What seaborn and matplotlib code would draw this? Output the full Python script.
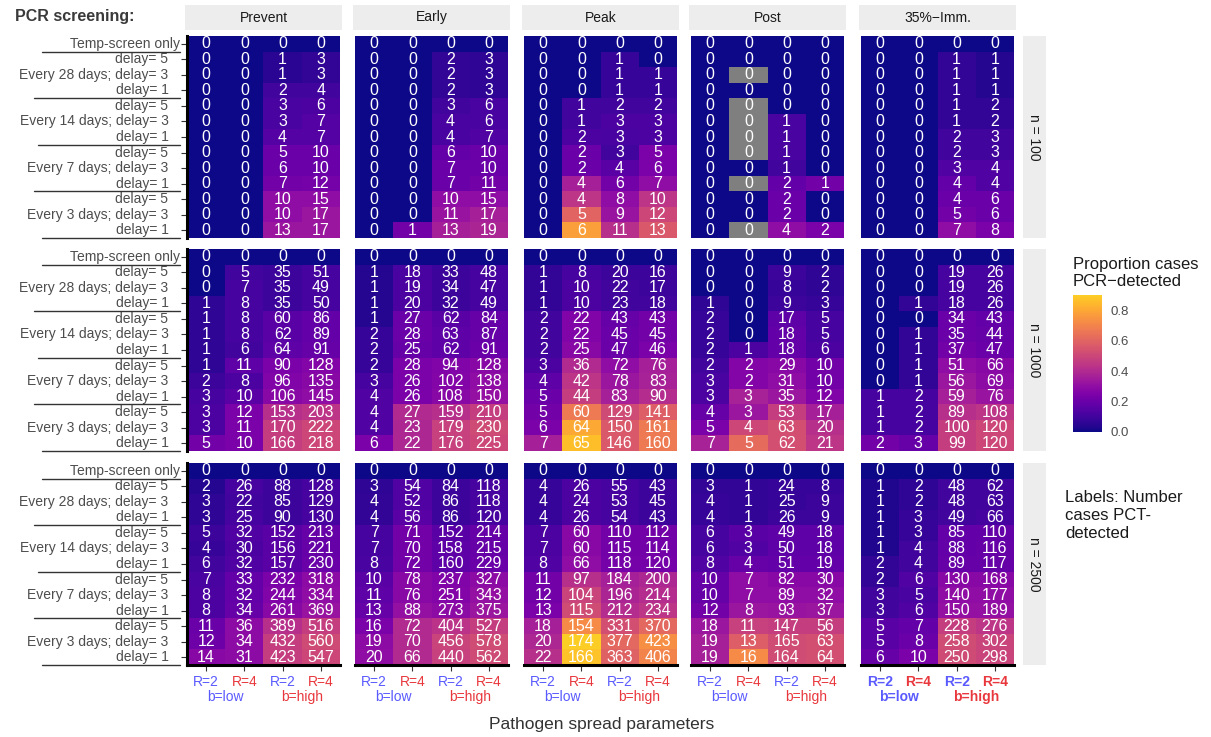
import numpy as np
import pandas as pd
import matplotlib
matplotlib.use("Agg")
import matplotlib.pyplot as plt
from matplotlib.colors import ListedColormap
import seaborn as sns
from matplotlib.transforms import blended_transform_factory

sns.set_theme(style="white")
plt.rcParams['font.family'] = ['Liberation Sans', 'DejaVu Sans']

# ---------------- data ----------------
timings = ["Prevent", "Early", "Peak", "Post", "35%\u2212Imm."]
sizes = ["n = 100", "n = 1000", "n = 2500"]
row_labels = ["Temp-screen only",
              "delay= 5", "Every 28 days; delay= 3", "delay= 1",
              "delay= 5", "Every 14 days; delay= 3", "delay= 1",
              "delay= 5", "Every 7 days; delay= 3", "delay= 1",
              "delay= 5", "Every 3 days; delay= 3", "delay= 1"]
param_R = ["R=2", "R=4", "R=2", "R=4"]
param_b = ["b=low", "b=high"]
col_keys = ["R2_low", "R4_low", "R2_high", "R4_high"]

Z = [0] * 13
NA = np.nan

# counts (labels) : columns R=2/b=low, R=4/b=low, R=2/b=high, R=4/b=high ; 13 rows each
cnt_100_prevent = [Z, Z, [0, 1, 1, 2, 3, 3, 4, 5, 6, 7, 10, 10, 13], [0, 3, 3, 4, 6, 7, 7, 10, 10, 12, 15, 17, 17]]
cnt_100_early = [Z, [0] * 12 + [1], [0, 2, 2, 2, 3, 4, 4, 6, 7, 7, 10, 11, 13], [0, 3, 3, 3, 6, 6, 7, 10, 10, 11, 15, 17, 19]]
cnt_100_peak = [Z, [0, 0, 0, 0, 1, 1, 2, 2, 2, 4, 4, 5, 6], [0, 1, 1, 1, 2, 3, 3, 3, 4, 6, 8, 9, 11], [0, 0, 1, 1, 2, 3, 3, 5, 6, 7, 10, 12, 13]]
cnt_100_post = [Z, Z, [0, 0, 0, 0, 0, 1, 1, 1, 1, 2, 2, 2, 4], [0, 0, 0, 0, 0, 0, 0, 0, 0, 1, 0, 0, 2]]
cnt_100_imm = [Z, Z, [0, 1, 1, 1, 1, 1, 2, 2, 3, 4, 4, 5, 7], [0, 1, 1, 1, 2, 2, 3, 3, 4, 4, 6, 6, 8]]

cnt_1000_prevent = [[0, 0, 0, 1, 1, 1, 1, 1, 2, 3, 3, 3, 5], [0, 5, 7, 8, 8, 8, 6, 11, 8, 10, 12, 11, 10],
                    [0, 35, 35, 35, 60, 62, 64, 90, 96, 106, 153, 170, 166], [0, 51, 49, 50, 86, 89, 91, 128, 135, 145, 203, 222, 218]]
cnt_1000_early = [[0, 1, 1, 1, 1, 2, 2, 2, 3, 4, 4, 4, 6], [0, 18, 19, 20, 27, 28, 25, 28, 26, 26, 27, 23, 22],
                  [0, 33, 34, 32, 62, 63, 62, 94, 102, 108, 159, 179, 176], [0, 48, 47, 49, 84, 87, 91, 128, 138, 150, 210, 230, 225]]
cnt_1000_peak = [[0, 1, 1, 1, 2, 2, 2, 3, 4, 5, 5, 6, 7], [0, 8, 10, 10, 22, 22, 25, 36, 42, 44, 60, 64, 65],
                 [0, 20, 22, 23, 43, 45, 47, 72, 78, 83, 129, 150, 146], [0, 16, 17, 18, 43, 45, 46, 76, 83, 90, 141, 161, 160]]
cnt_1000_post = [[0, 0, 0, 1, 2, 2, 2, 2, 3, 3, 4, 5, 7], [0, 0, 0, 0, 0, 0, 1, 2, 2, 3, 3, 4, 5],
                 [0, 9, 8, 9, 17, 18, 18, 29, 31, 35, 53, 63, 62], [0, 2, 2, 3, 5, 5, 6, 10, 10, 12, 17, 20, 21]]
cnt_1000_imm = [[0, 0, 0, 0, 0, 0, 0, 0, 0, 1, 1, 1, 2], [0, 0, 0, 1, 0, 1, 1, 1, 1, 2, 2, 2, 3],
                [0, 19, 19, 18, 34, 35, 37, 51, 56, 59, 89, 100, 99], [0, 26, 26, 26, 43, 44, 47, 66, 69, 76, 108, 120, 120]]

cnt_2500_prevent = [[0, 2, 3, 3, 5, 4, 6, 7, 8, 8, 11, 12, 14], [0, 26, 22, 25, 32, 30, 32, 33, 32, 34, 36, 34, 31],
                    [0, 88, 85, 90, 152, 156, 157, 232, 244, 261, 389, 432, 423], [0, 128, 129, 130, 213, 221, 230, 318, 334, 369, 516, 560, 547]]
cnt_2500_early = [[0, 3, 4, 4, 7, 7, 8, 10, 11, 13, 16, 19, 20], [0, 54, 52, 56, 71, 70, 72, 78, 76, 88, 72, 70, 66],
                  [0, 84, 86, 86, 152, 158, 160, 237, 251, 273, 404, 456, 440], [0, 118, 118, 120, 214, 215, 229, 327, 343, 375, 527, 578, 562]]
cnt_2500_peak = [[0, 4, 4, 4, 7, 7, 8, 11, 12, 13, 18, 20, 22], [0, 26, 24, 26, 60, 60, 66, 97, 104, 115, 154, 174, 166],
                 [0, 55, 53, 54, 110, 115, 118, 184, 196, 212, 331, 377, 363], [0, 43, 45, 43, 112, 114, 120, 200, 214, 234, 370, 423, 406]]
cnt_2500_post = [[0, 3, 4, 4, 6, 6, 8, 10, 10, 12, 18, 19, 19], [0, 1, 1, 1, 3, 3, 4, 7, 7, 8, 11, 13, 16],
                 [0, 24, 25, 26, 49, 50, 51, 82, 89, 93, 147, 165, 164], [0, 8, 9, 9, 18, 18, 19, 30, 32, 37, 56, 63, 64]]
cnt_2500_imm = [[0, 1, 1, 1, 1, 1, 2, 2, 3, 3, 5, 5, 6], [0, 2, 2, 3, 3, 4, 4, 6, 5, 6, 7, 8, 10],
                [0, 48, 48, 49, 85, 88, 89, 130, 140, 150, 228, 258, 250], [0, 62, 63, 66, 110, 116, 117, 168, 177, 189, 276, 302, 298]]

# proportion of cases PCR-detected (fill colour); NaN = no cases (grey)
prop_100_prevent = [Z, Z, [0, .05, .05, .1, .12, .12, .15, .2, .2, .22, .3, .3, .33],
                    [0, .07, .07, .1, .13, .15, .15, .2, .2, .23, .3, .33, .33]]
prop_100_early = [Z, [0] * 12 + [.22], [0, .07, .07, .07, .1, .12, .12, .18, .2, .2, .3, .32, .36],
                  [0, .06, .06, .06, .12, .12, .14, .2, .2, .22, .3, .36, .38]]
prop_100_peak = [Z, [0, 0, 0, 0, .1, .1, .13, .2, .2, .36, .44, .6, .78],
                 [0, .08, .08, .08, .1, .13, .12, .1, .16, .22, .3, .32, .42],
                 [0, 0, .08, .08, .1, .13, .13, .24, .24, .3, .44, .5, .56]]
prop_100_post = [Z, [0, 0, NA, 0, NA, NA, NA, NA, 0, NA, 0, 0, NA],
                 [0, 0, 0, 0, 0, .12, .12, .12, .1, .18, .2, .2, .3],
                 [0, 0, 0, 0, 0, 0, 0, 0, 0, .22, 0, 0, .24]]
prop_100_imm = [Z, Z, [0, .07, .07, .07, .07, .07, .1, .1, .14, .18, .2, .22, .3],
                [0, .04, .04, .04, .07, .07, .1, .1, .14, .14, .2, .2, .24]]

prop_1000_prevent = [[0, 0, 0, .06, .06, .06, .06, .06, .09, .11, .13, .13, .22],
                     [0, .1, .11, .11, .11, .11, .1, .17, .13, .16, .24, .24, .24],
                     [0, .09, .09, .09, .16, .16, .17, .24, .26, .28, .42, .47, .47],
                     [0, .11, .11, .11, .18, .18, .19, .27, .28, .3, .44, .5, .5]]
prop_1000_early = [[0, .04, .04, .04, .04, .08, .08, .08, .11, .14, .14, .14, .24],
                   [0, .12, .13, .13, .2, .2, .19, .24, .24, .24, .4, .39, .39],
                   [0, .09, .09, .09, .16, .17, .17, .26, .27, .28, .42, .48, .48],
                   [0, .11, .11, .11, .19, .19, .2, .28, .3, .31, .47, .51, .5]]
prop_1000_peak = [[0, .07, .07, .07, .1, .1, .1, .13, .17, .2, .22, .24, .36],
                  [0, .11, .13, .13, .26, .26, .28, .4, .44, .47, .67, .8, .86],
                  [0, .09, .1, .1, .19, .2, .2, .3, .33, .36, .51, .56, .56],
                  [0, .09, .09, .1, .22, .22, .24, .36, .37, .41, .58, .67, .67]]
prop_1000_post = [[0, 0, 0, .06, .08, .08, .08, .1, .12, .13, .19, .24, .37],
                  [0, 0, 0, 0, 0, 0, .13, .27, .27, .37, .33, .5, .62],
                  [0, .09, .08, .09, .17, .18, .18, .28, .3, .33, .47, .53, .53],
                  [0, .06, .06, .08, .11, .11, .13, .22, .22, .26, .36, .42, .44]]
prop_1000_imm = [[0] * 9 + [.11, .11, .11, .22],
                 [0, 0, 0, .07, 0, .07, .07, .07, .07, .11, .11, .11, .19],
                 [0, .11, .11, .11, .2, .2, .22, .3, .33, .36, .42, .47, .47],
                 [0, .11, .11, .11, .18, .19, .2, .28, .29, .32, .44, .5, .5]]

prop_2500_prevent = [[0, .04, .06, .06, .09, .08, .1, .12, .13, .13, .2, .21, .28],
                     [0, .11, .1, .11, .14, .13, .14, .18, .18, .19, .29, .29, .29],
                     [0, .09, .09, .09, .16, .16, .16, .24, .26, .28, .42, .47, .47],
                     [0, .11, .11, .11, .19, .19, .2, .29, .3, .32, .47, .51, .5]]
prop_2500_early = [[0, .06, .07, .07, .11, .11, .12, .16, .17, .19, .24, .29, .3],
                   [0, .14, .14, .16, .22, .22, .22, .28, .28, .31, .4, .4, .4],
                   [0, .09, .09, .09, .16, .17, .17, .26, .27, .29, .43, .49, .48],
                   [0, .11, .11, .11, .19, .19, .2, .29, .31, .33, .47, .52, .51]]
prop_2500_peak = [[0, .08, .08, .08, .13, .13, .14, .22, .22, .24, .36, .39, .42],
                  [0, .13, .13, .13, .28, .28, .3, .42, .49, .52, .72, .9, .87],
                  [0, .11, .11, .11, .22, .22, .23, .36, .38, .41, .53, .61, .59],
                  [0, .09, .09, .09, .22, .22, .23, .39, .41, .44, .61, .73, .7]]
prop_2500_post = [[0, .07, .08, .08, .11, .11, .14, .19, .19, .22, .33, .36, .36],
                  [0, .07, .07, .07, .16, .14, .19, .3, .3, .33, .48, .58, .72],
                  [0, .08, .08, .09, .17, .17, .18, .28, .3, .32, .47, .52, .52],
                  [0, .08, .09, .09, .17, .17, .18, .28, .3, .33, .47, .53, .53]]
prop_2500_imm = [[0, .03, .03, .03, .03, .03, .07, .07, .1, .1, .16, .16, .19],
                 [0, .06, .06, .08, .08, .1, .1, .14, .12, .14, .18, .2, .24],
                 [0, .1, .1, .1, .18, .18, .19, .28, .3, .31, .47, .52, .51],
                 [0, .1, .1, .11, .18, .19, .19, .28, .3, .31, .44, .49, .49]]

counts = [[cnt_100_prevent, cnt_100_early, cnt_100_peak, cnt_100_post, cnt_100_imm],
          [cnt_1000_prevent, cnt_1000_early, cnt_1000_peak, cnt_1000_post, cnt_1000_imm],
          [cnt_2500_prevent, cnt_2500_early, cnt_2500_peak, cnt_2500_post, cnt_2500_imm]]
props = [[prop_100_prevent, prop_100_early, prop_100_peak, prop_100_post, prop_100_imm],
         [prop_1000_prevent, prop_1000_early, prop_1000_peak, prop_1000_post, prop_1000_imm],
         [prop_2500_prevent, prop_2500_early, prop_2500_peak, prop_2500_post, prop_2500_imm]]

# ---------------- layout ----------------
W, H = 1211, 737
fig = plt.figure(figsize=(W / 100, H / 100), dpi=100)
fig.patch.set_facecolor("white")


def rect(x0, y0, w, h):
    return [x0 / W, 1 - (y0 + h) / H, w / W, h / H]


px0 = [187, 355, 524, 691, 861]
pw = 153
py0 = [36, 249, 463]
ph = 202

BLUE = "#5a5aff"
RED = "#e8383d"
GREY30 = "#4d4d4d"
sep_lines = [(1, 42), (4, 34), (7, 38), (10, 34), (13, 42)]
tick_text = [row_labels[0]] + [lab + "   " for lab in row_labels[1:]]

cmap = ListedColormap(plt.get_cmap("plasma")(np.linspace(0, 0.9, 256)))
cbar_ax = fig.add_axes(rect(1073, 295, 29, 137))

for r in range(3):
    for c in range(5):
        ax = fig.add_axes(rect(px0[c], py0[r], pw, ph))
        cdf = pd.DataFrame(np.array(counts[r][c]).T, index=row_labels, columns=col_keys)
        pdf = pd.DataFrame(np.array(props[r][c], dtype=float).T, index=row_labels, columns=col_keys)
        first = (r == 0 and c == 0)
        sns.heatmap(pdf, ax=ax, cmap=cmap, vmin=0, vmax=0.9, annot=cdf, fmt="d",
                    annot_kws={"color": "white", "fontsize": 11.5}, linewidths=0,
                    cbar=first, cbar_ax=cbar_ax if first else None)
        ax.set_facecolor("#7f7f7f")
        # labels for grey (NA) cells
        for i in range(13):
            for j in range(4):
                if np.isnan(pdf.iat[i, j]):
                    ax.text(j + 0.5, i + 0.5, str(cdf.iat[i, j]), color="white",
                            fontsize=11.5, ha="center", va="center")
        ax.set_xlabel("")
        ax.set_ylabel("")
        for s in ax.spines.values():
            s.set_visible(False)
        # y axis
        if c == 0:
            ax.set_yticks(np.arange(13) + 0.5)
            ax.set_yticklabels(tick_text, rotation=0, color=GREY30, fontsize=10)
            ax.tick_params(axis="y", left=True, length=4, width=0.8, color="#333333", pad=1)
            ax.spines["left"].set_visible(True)
            ax.spines["left"].set_linewidth(2.2)
            ax.spines["left"].set_color("black")
            tr = blended_transform_factory(ax.transAxes, ax.transData)
            for yb, xs in sep_lines:
                ax.plot([(xs - px0[0]) / pw, (180 - px0[0]) / pw], [yb, yb], transform=tr,
                        color="#333333", lw=1, clip_on=False)
        else:
            ax.set_yticks([])
        # x axis
        if r == 2:
            ax.set_xticks(np.arange(4) + 0.5)
            weight = "bold" if c == 4 else "normal"
            ax.set_xticklabels(param_R, rotation=0, fontsize=10, fontweight=weight)
            for lab, colr in zip(ax.get_xticklabels(), [BLUE, RED, BLUE, RED]):
                lab.set_color(colr)
            ax.tick_params(axis="x", bottom=True, length=4, width=0.8, color="#333333", pad=3)
            ax.spines["bottom"].set_visible(True)
            ax.spines["bottom"].set_linewidth(2.2)
            ax.spines["bottom"].set_color("black")
            trx = blended_transform_factory(ax.transData, ax.transAxes)
            ax.text(1.0, -0.16, param_b[0], transform=trx, ha="center", va="center",
                    color=BLUE, fontsize=10, fontweight=weight)
            ax.text(3.0, -0.16, param_b[1], transform=trx, ha="center", va="center",
                    color=RED, fontsize=10, fontweight=weight)
        else:
            ax.set_xticks([])

# top strips
for c in range(5):
    sax = fig.add_axes(rect(px0[c] - 2, 5, pw + 4, 25))
    sax.set_facecolor("#ededed")
    sax.set_xticks([]); sax.set_yticks([])
    for s in sax.spines.values():
        s.set_visible(False)
    sax.text(0.5, 0.5, timings[c], ha="center", va="center", fontsize=10, color="#1a1a1a")

# right strips
for r in range(3):
    sax = fig.add_axes(rect(1023, py0[r], 23, ph))
    sax.set_facecolor("#ededed")
    sax.set_xticks([]); sax.set_yticks([])
    for s in sax.spines.values():
        s.set_visible(False)
    sax.text(0.5, 0.5, sizes[r], ha="center", va="center", fontsize=10, color="#1a1a1a", rotation=270)

# colorbar styling
cbar = cbar_ax
cbar.set_yticks([0, 0.2, 0.4, 0.6, 0.8])
cbar.set_yticklabels(["0.0", "0.2", "0.4", "0.6", "0.8"], fontsize=9.5, color=GREY30)
cbar.tick_params(axis="y", left=True, right=True, direction="in", length=5, width=1, color="white", pad=6)
for s in cbar.spines.values():
    s.set_visible(False)
cbar.yaxis.set_tick_params(labelleft=False, labelright=True)

fig.text(1073 / W, 1 - 273 / H, "Proportion cases\nPCR\u2212detected", ha="left", va="center",
         fontsize=12, color="#1a1a1a", linespacing=1.1)
fig.text(1065 / W, 1 - 515 / H, "Labels: Number\ncases PCT-\ndetected", ha="left", va="center",
         fontsize=12, color="#1a1a1a", linespacing=1.25)
fig.text(15 / W, 1 - 17 / H, "PCR screening:", ha="left", va="center", fontsize=11.5,
         fontweight="bold", color="#3a3a3a")
fig.text(602 / W, 1 - 725 / H, "Pathogen spread parameters", ha="center", va="center",
         fontsize=12.5, color="#333333")

fig.savefig("out.png", dpi=100)
